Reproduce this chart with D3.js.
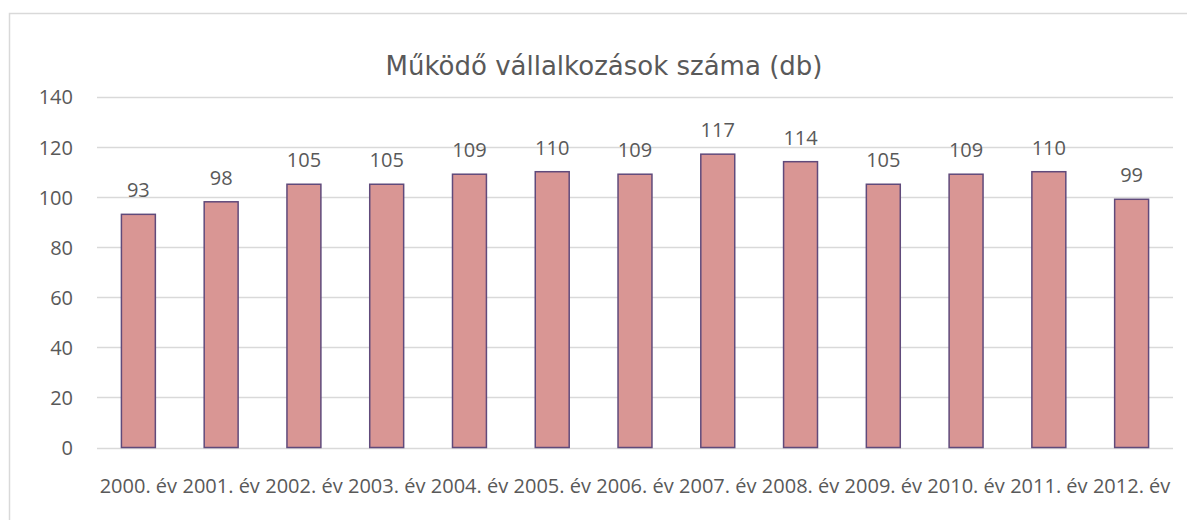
<!DOCTYPE html>
<html><head><meta charset="utf-8">
<script src="https://cdn.jsdelivr.net/npm/d3@7"></script>
<style>body{margin:0;background:#fff}svg{display:block}</style>
</head><body>
<svg id="c" width="1187" height="520"></svg>
<script>
const categories = ["2000. év","2001. év","2002. év","2003. év","2004. év","2005. év","2006. év","2007. év","2008. év","2009. év","2010. év","2011. év","2012. év"];
const values = [93,98,105,105,109,110,109,117,114,105,109,110,99];
const yTicks = [0,20,40,60,80,100,120,140];
const title = "Működő vállalkozások száma (db)";

(function(){
const svg = d3.select("#c");
svg.append("rect").attr("x",9.5).attr("y",13.5).attr("width",1200).attr("height",520)
  .attr("fill","#fff").attr("stroke","#d9d9d9").attr("stroke-width",1.5);

const pl=97, pr=1173, pt=96.5, pb=447.5;
const x = d3.scaleBand().domain(categories).range([pl,pr]).paddingInner(0.59).paddingOuter(0.295);
const y = d3.scaleLinear().domain([0,140]).range([pb,pt]);

const txt = "#595959";
const font = "'Open Sans'";
const fs = "20px";

svg.append("g").selectAll("line").data(yTicks).join("line")
  .attr("x1",pl).attr("x2",pr)
  .attr("y1",d=>Math.round(y(d))+0.5).attr("y2",d=>Math.round(y(d))+0.5)
  .attr("stroke","#d9d9d9").attr("stroke-width",1.5);

const yAxis = d3.axisLeft(y).tickValues(yTicks).tickSize(0).tickPadding(0);
const ya = svg.append("g").attr("transform","translate(73,0)").call(yAxis);
ya.select(".domain").remove();
ya.selectAll("text").attr("fill",txt).style("font-family",font).style("font-size",fs).attr("dy","0.37em");

const xAxis = d3.axisBottom(x).tickSize(0).tickPadding(0);
const xa = svg.append("g").attr("transform","translate(0,477)").call(xAxis);
xa.select(".domain").remove();
xa.selectAll("text").attr("fill",txt).style("font-family",font).style("font-size",fs).attr("dy","0.78em");

svg.append("g").selectAll("rect").data(values).join("rect")
  .attr("x",(d,i)=>x(categories[i]))
  .attr("y",d=>y(d))
  .attr("width",x.bandwidth())
  .attr("height",d=>pb-y(d))
  .attr("fill","#d99694").attr("stroke","#604a7b").attr("stroke-width",1.5);

svg.append("g").selectAll("text").data(values).join("text")
  .attr("x",(d,i)=>x(categories[i])+x.bandwidth()/2)
  .attr("y",d=>y(d)-17)
  .attr("text-anchor","middle").attr("fill",txt)
  .style("font-family",font).style("font-size",fs)
  .text(d=>d);

svg.append("text").attr("x",604).attr("y",75)
  .attr("text-anchor","middle").attr("fill",txt)
  .style("font-family","'DejaVu Sans'").style("font-size","26px")
  .text(title);
})();
</script>
</body></html>
